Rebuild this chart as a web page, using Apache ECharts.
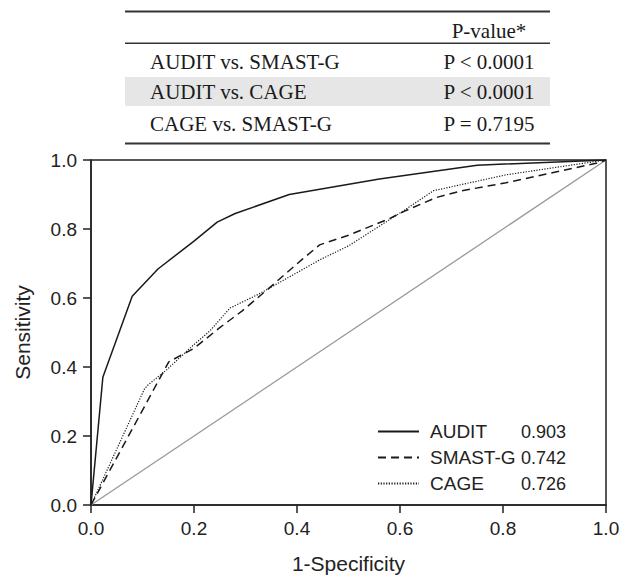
<!DOCTYPE html>
<html>
<head>
<meta charset="utf-8">
<script src="https://cdn.jsdelivr.net/npm/echarts@6/dist/echarts.min.js"></script>
<style>
  html, body { margin: 0; padding: 0; background: #fff; }
  #roc { width: 628px; height: 579px; }
</style>
</head>
<body>
<div id="roc"></div>
<script>
// table above the plot
var comparisons = ['AUDIT vs. SMAST-G', 'AUDIT vs. CAGE', 'CAGE vs. SMAST-G'];
var pValues = ['P < 0.0001', 'P < 0.0001', 'P = 0.7195'];

// ROC curves (1-specificity, sensitivity)
var auditFpr = [0, 0.023, 0.08, 0.13, 0.2, 0.245, 0.28, 0.385, 0.56, 0.75, 1];
var auditTpr = [0, 0.37, 0.605, 0.684, 0.765, 0.82, 0.845, 0.9, 0.945, 0.985, 1];

var smastFpr = [0, 0.151, 0.2, 0.25, 0.293, 0.343, 0.41, 0.444, 0.5, 0.578, 0.609, 0.67, 0.72, 0.806, 0.988, 1];
var smastTpr = [0, 0.415, 0.454, 0.514, 0.562, 0.625, 0.712, 0.754, 0.782, 0.829, 0.852, 0.891, 0.911, 0.934, 0.993, 1];

var cageFpr = [0, 0.104, 0.11, 0.147, 0.194, 0.231, 0.27, 0.324, 0.446, 0.5, 0.609, 0.665, 0.806, 0.99, 1];
var cageTpr = [0, 0.337, 0.347, 0.392, 0.457, 0.505, 0.571, 0.61, 0.712, 0.751, 0.855, 0.911, 0.957, 0.998, 1];

var seriesNames = ['AUDIT', 'SMAST-G', 'CAGE'];
var aucValues = ['0.903', '0.742', '0.726'];

function pairs(xs, ys) {
  var out = [];
  for (var i = 0; i < xs.length; i++) out.push([xs[i], ys[i]]);
  return out;
}

var myChart = echarts.init(document.getElementById('roc'), null, { renderer: 'svg' });

// table drawn as graphic elements
var serif = '"Liberation Serif", "DejaVu Serif", serif';
var rowY = [62, 92, 124];
var tableEls = [
  { type: 'rect', shape: { x: 125, y: 77, width: 425, height: 29 }, style: { fill: '#e6e6e6' }, silent: true },
  { type: 'rect', shape: { x: 125, y: 10.5, width: 425, height: 2 }, style: { fill: '#333' } },
  { type: 'rect', shape: { x: 125, y: 42.5, width: 425, height: 1.5 }, style: { fill: '#333' } },
  { type: 'rect', shape: { x: 125, y: 142.5, width: 425, height: 2 }, style: { fill: '#333' } },
  { type: 'text', x: 489, y: 31, style: { text: 'P-value*', font: '21px ' + serif, fill: '#1a1a1a', align: 'center', verticalAlign: 'middle' } }
];
for (var r = 0; r < comparisons.length; r++) {
  tableEls.push({ type: 'text', x: 150, y: rowY[r], style: { text: comparisons[r], font: '21px ' + serif, fill: '#1a1a1a', align: 'left', verticalAlign: 'middle' } });
  tableEls.push({ type: 'text', x: 489, y: rowY[r], style: { text: pValues[r], font: '21px ' + serif, fill: '#1a1a1a', align: 'center', verticalAlign: 'middle' } });
}

var sans = '"Liberation Sans", Arial, sans-serif';
var axisCommon = {
  type: 'value',
  min: 0,
  max: 1,
  interval: 0.2,
  splitLine: { show: false },
  axisLine: { show: true, onZero: false, lineStyle: { color: '#222', width: 1.5 } },
  axisTick: { show: true, length: 8, lineStyle: { color: '#222', width: 1.5 } },
  axisLabel: { color: '#222', fontSize: 19, fontFamily: sans, formatter: function (v) { return v.toFixed(1); } },
  nameTextStyle: { color: '#222', fontSize: 21, fontFamily: sans }
};

var option = {
  animation: false,
  backgroundColor: '#fff',
  graphic: tableEls,
  grid: { left: 91, right: 22, top: 160, bottom: 67, show: true, borderColor: '#222', borderWidth: 1.5 },
  xAxis: echarts.util.merge({
    name: '1-Specificity', nameLocation: 'middle', nameGap: 48,
    axisLabel: { margin: 14 }
  }, axisCommon),
  yAxis: echarts.util.merge({
    name: 'Sensitivity', nameLocation: 'middle', nameGap: 58,
    axisLabel: { margin: 14 }
  }, axisCommon),
  legend: {
    orient: 'vertical',
    left: 377,
    top: 422,
    padding: 0,
    itemWidth: 41,
    itemHeight: 18,
    itemGap: 7,
    itemStyle: { opacity: 0 },
    data: seriesNames,
    formatter: function (name) {
      return '{n|' + name + '}{v|' + aucValues[seriesNames.indexOf(name)] + '}';
    },
    textStyle: {
      color: '#222',
      fontFamily: sans,
      fontSize: 19,
      rich: {
        n: { width: 91, padding: [0, 0, 0, 6], fontSize: 19, fontFamily: sans, color: '#222' },
        v: { fontSize: 18, fontFamily: sans, color: '#222' }
      }
    }
  },
  series: [
    {
      name: 'reference', type: 'line', data: [[0, 0], [1, 1]], symbol: 'none',
      lineStyle: { color: '#999', width: 1.3 }, silent: true
    },
    {
      name: seriesNames[0], type: 'line', data: pairs(auditFpr, auditTpr), symbol: 'none',
      lineStyle: { color: '#1a1a1a', width: 1.5, type: 'solid' }, itemStyle: { color: '#1a1a1a' }
    },
    {
      name: seriesNames[1], type: 'line', data: pairs(smastFpr, smastTpr), symbol: 'none',
      lineStyle: { color: '#1a1a1a', width: 1.5, type: [8, 5] }, itemStyle: { color: '#1a1a1a' }
    },
    {
      name: seriesNames[2], type: 'line', data: pairs(cageFpr, cageTpr), symbol: 'none',
      lineStyle: { color: '#1a1a1a', width: 1.2, type: [1.2, 1.5] }, itemStyle: { color: '#1a1a1a' }
    }
  ]
};

myChart.setOption(option);
</script>
</body>
</html>
